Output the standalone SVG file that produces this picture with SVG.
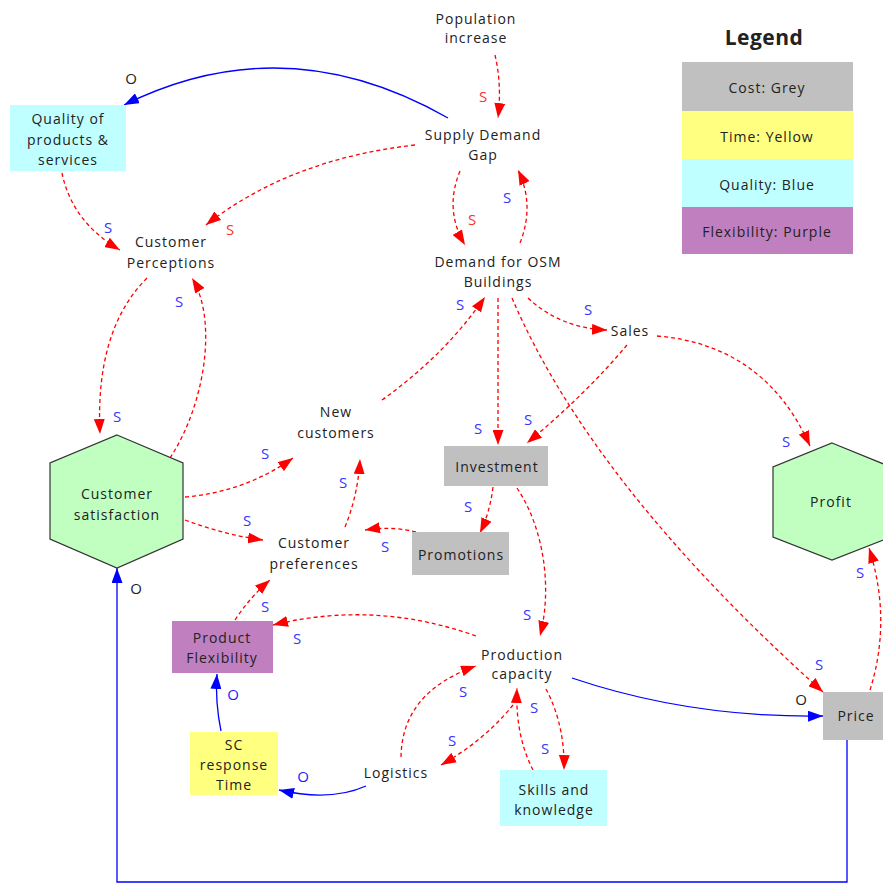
<svg xmlns="http://www.w3.org/2000/svg" width="883" height="883" viewBox="0 0 883 883">
  <style>
    text { font-family: "Open Sans", "Noto Sans", "Liberation Sans", sans-serif; font-size: 14px; letter-spacing: 1px; fill: #222; text-anchor: middle; }
    .legend-title { font-size: 21px; font-weight: bold; letter-spacing: 0.5px; }
    .pos { stroke: #FF0000; stroke-width: 1.3; stroke-dasharray: 4 3; fill: none; marker-end: url(#redArrow); }
    .neg { stroke: #0000FF; stroke-width: 1.3; fill: none; marker-end: url(#blueArrow); }
    .sb { fill: #3535FF; letter-spacing: 0; font-size: 15px; }
    .sr { fill: #FF3030; letter-spacing: 0; font-size: 15px; }
    .ob { fill: #222; letter-spacing: 0; font-size: 15px; }
    .obl { fill: #2020FF; letter-spacing: 0; font-size: 15px; }
    .hex { fill: #C0FFC0; stroke: #333; stroke-width: 1.2; }
    .grey { fill: #C0C0C0; }
    .yellow { fill: #FFFF80; }
    .cyan { fill: #C0FFFF; }
    .purple { fill: #C080C0; }
  </style>
  <defs>
    <marker id="redArrow" viewBox="0 0 15 11" refX="15" refY="5.5" markerWidth="15" markerHeight="11" markerUnits="userSpaceOnUse" orient="auto">
      <path d="M0,0 L15,5.5 L0,11 z" fill="#FF0000"/>
    </marker>
    <marker id="blueArrow" viewBox="0 0 15 11" refX="15" refY="5.5" markerWidth="15" markerHeight="11" markerUnits="userSpaceOnUse" orient="auto">
      <path d="M0,0 L15,5.5 L0,11 z" fill="#0000FF"/>
    </marker>
  </defs>

  <rect width="883" height="883" fill="#FFFFFF"/>

  <!-- Legend -->
  <g id="legend">
    <text class="legend-title" x="764" y="45">Legend</text>
    <rect class="grey" x="682" y="62" width="171" height="49"/>
    <text x="767" y="93">Cost: Grey</text>
    <rect class="yellow" x="682" y="111" width="171" height="48"/>
    <text x="767" y="142">Time: Yellow</text>
    <rect class="cyan" x="682" y="159" width="171" height="48"/>
    <text x="767" y="190">Quality: Blue</text>
    <rect class="purple" x="682" y="207" width="171" height="47"/>
    <text x="767" y="237">Flexibility: Purple</text>
  </g>

  <!-- Connectors -->
  <g id="connectors">
    <path class="neg" d="M448,118 Q285,25 124,105"/>
    <path class="pos" d="M495,55 Q502,85 498,118"/>
    <path class="pos" d="M415,145 Q290,159 206,225"/>
    <path class="pos" d="M62,173 Q72,222 120,250"/>
    <path class="pos" d="M460,171 Q444,210 465,245"/>
    <path class="pos" d="M520,243 Q535,205 518,170"/>
    <path class="pos" d="M147,278 Q95,330 100,434"/>
    <path class="pos" d="M170,458 C205,405 218,320 192,278"/>
    <path class="pos" d="M185,497 Q245,492 293,458"/>
    <path class="pos" d="M185,520 Q225,535 263,540"/>
    <path class="pos" d="M382,400 Q445,355 485,297"/>
    <path class="pos" d="M498,298 L498,445"/>
    <path class="pos" d="M528,298 Q560,328 607,330"/>
    <path class="pos" d="M512,298 Q592,485 823,692"/>
    <path class="pos" d="M627,345 Q585,395 527,443"/>
    <path class="pos" d="M657,336 Q765,345 810,446"/>
    <path class="pos" d="M493,487 Q490,512 480,533"/>
    <path class="pos" d="M517,488 C545,530 552,590 540,636"/>
    <path class="pos" d="M416,532 Q392,526 365,530"/>
    <path class="pos" d="M345,527 Q358,495 360,459"/>
    <path class="pos" d="M235,620 Q250,597 270,580"/>
    <path class="pos" d="M476,636 Q375,600 273,625"/>
    <path class="neg" d="M572,678 Q690,718 823,716"/>
    <path class="pos" d="M870,690 Q892,620 869,548"/>
    <path class="neg" d="M847,740 L847,882 L117,882 L117,568"/>
    <path class="pos" d="M513,705 Q485,740 441,765"/>
    <path class="pos" d="M401,757 Q402,692 476,666"/>
    <path class="neg" d="M366,786 Q330,802 279,790"/>
    <path class="neg" d="M221,731 Q215,702 217,674"/>
    <path class="pos" d="M546,689 Q565,725 564,770"/>
    <path class="pos" d="M533,770 Q515,735 517,688"/>

    <!-- polarity labels -->
    <text class="sr" x="483" y="102">S</text>
    <text class="sr" x="230" y="235">S</text>
    <text class="sr" x="472" y="225">S</text>
    <text class="sb" x="108" y="233">S</text>
    <text class="sb" x="507" y="203">S</text>
    <text class="sb" x="117" y="422">S</text>
    <text class="sb" x="179" y="307">S</text>
    <text class="sb" x="265" y="459">S</text>
    <text class="sb" x="247" y="526">S</text>
    <text class="sb" x="460" y="310">S</text>
    <text class="sb" x="478" y="434">S</text>
    <text class="sb" x="528" y="425">S</text>
    <text class="sb" x="588" y="315">S</text>
    <text class="sb" x="786" y="447">S</text>
    <text class="sb" x="468" y="512">S</text>
    <text class="sb" x="343" y="488">S</text>
    <text class="sb" x="385" y="552">S</text>
    <text class="sb" x="265" y="612">S</text>
    <text class="sb" x="297" y="644">S</text>
    <text class="sb" x="527" y="620">S</text>
    <text class="sb" x="463" y="697">S</text>
    <text class="sb" x="452" y="746">S</text>
    <text class="sb" x="534" y="713">S</text>
    <text class="sb" x="545" y="754">S</text>
    <text class="sb" x="819" y="670">S</text>
    <text class="sb" x="860" y="578">S</text>
    <text class="ob" x="131" y="84">O</text>
    <text class="ob" x="136" y="594">O</text>
    <text class="ob" x="801" y="705">O</text>
    <text class="obl" x="233" y="700">O</text>
    <text class="obl" x="303" y="782">O</text>
  </g>

  <!-- Nodes -->
  <g id="population-increase">
    <text x="476" y="24">Population</text>
    <text x="476" y="43">increase</text>
  </g>
  <g id="supply-demand-gap">
    <text x="483" y="140">Supply Demand</text>
    <text x="483" y="160">Gap</text>
  </g>
  <g id="quality-of-products">
    <rect class="cyan" x="10" y="105" width="116" height="66"/>
    <text x="68" y="124">Quality of</text>
    <text x="68" y="145">products &amp;</text>
    <text x="68" y="165">services</text>
  </g>
  <g id="customer-perceptions">
    <text x="171" y="247">Customer</text>
    <text x="171" y="268">Perceptions</text>
  </g>
  <g id="demand-for-osm">
    <text x="498" y="267">Demand for OSM</text>
    <text x="498" y="287">Buildings</text>
  </g>
  <g id="sales">
    <text x="630" y="336">Sales</text>
  </g>
  <g id="new-customers">
    <text x="336" y="417">New</text>
    <text x="336" y="438">customers</text>
  </g>
  <g id="customer-satisfaction">
    <polygon class="hex" points="117,435 183,463 183,539 117,568 50,539 50,463"/>
    <text x="117" y="499">Customer</text>
    <text x="117" y="520">satisfaction</text>
  </g>
  <g id="profit">
    <polygon class="hex" points="832,443 891,467 891,537 832,560 773,537 773,467"/>
    <text x="831" y="507">Profit</text>
  </g>
  <g id="investment">
    <rect class="grey" x="444" y="446" width="104" height="40"/>
    <text x="497" y="472">Investment</text>
  </g>
  <g id="promotions">
    <rect class="grey" x="412" y="532" width="97" height="43"/>
    <text x="461" y="560">Promotions</text>
  </g>
  <g id="customer-preferences">
    <text x="314" y="548">Customer</text>
    <text x="314" y="569">preferences</text>
  </g>
  <g id="product-flexibility">
    <rect class="purple" x="172" y="621" width="101" height="52"/>
    <text x="222" y="643">Product</text>
    <text x="222" y="663">Flexibility</text>
  </g>
  <g id="sc-response-time">
    <rect class="yellow" x="190" y="732" width="88" height="63"/>
    <text x="234" y="750">SC</text>
    <text x="234" y="770">response</text>
    <text x="234" y="790">Time</text>
  </g>
  <g id="logistics">
    <text x="396" y="778">Logistics</text>
  </g>
  <g id="production-capacity">
    <text x="522" y="660">Production</text>
    <text x="522" y="679">capacity</text>
  </g>
  <g id="skills-and-knowledge">
    <rect class="cyan" x="500" y="770" width="107" height="56"/>
    <text x="554" y="795">Skills and</text>
    <text x="554" y="815">knowledge</text>
  </g>
  <g id="price">
    <rect class="grey" x="823" y="692" width="70" height="48"/>
    <text x="856" y="721">Price</text>
  </g>
</svg>
